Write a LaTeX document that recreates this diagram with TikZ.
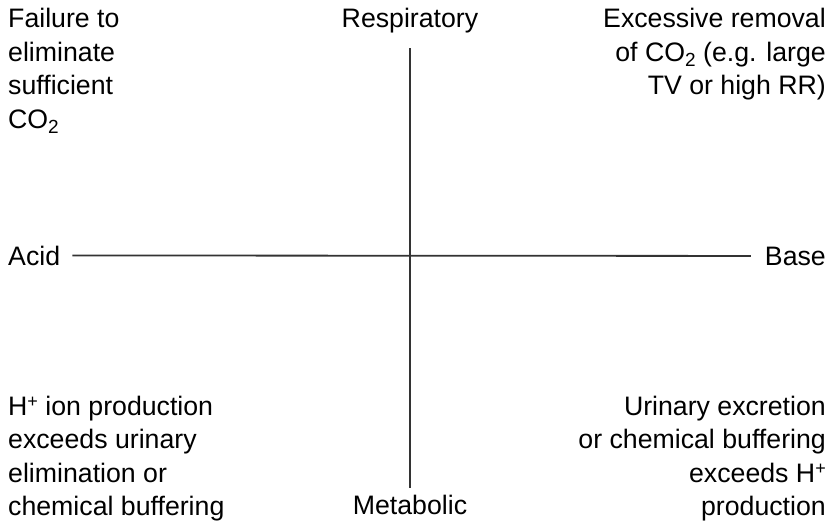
\documentclass[tikz,border=0pt]{standalone}
\usepackage{fontspec}
\setmainfont{Liberation Sans}
\newcommand{\subtwo}{\raisebox{-0.22em}{\fontsize{19}{19}\selectfont 2}}
\newcommand{\suppl}{\raisebox{0.3em}{\fontsize{18}{18}\selectfont +}}
\begin{document}
\begin{tikzpicture}[x=1pt,y=-1pt,
  lbl/.style={inner sep=0pt, font=\fontsize{26.7}{33.5}\selectfont, text=black},
  axis/.style={line width=1.8pt, draw=black!80}]
\useasboundingbox (0,0) rectangle (835,523);
\node[lbl, anchor=base west] (acid) at (8,265) {Acid};
\node[lbl, anchor=base east] (base) at (826,265) {Base};
\node[lbl, anchor=base] (resp) at (410,27) {Respiratory};
\node[lbl, anchor=base] (meta) at (410,514) {Metabolic};
\node[lbl, anchor=north west, align=left] (tl) at (8,8)
  {Failure to\\eliminate\\sufficient\\CO\subtwo};
\node[lbl, anchor=north east, align=right] (tr) at (826,8)
  {Excessive removal\\of CO\subtwo{} (e.g. large\\TV or high RR)};
\node[lbl, anchor=south west, align=left] (bl) at (8,521.5)
  {H\suppl{} ion production\\exceeds urinary\\elimination or\\chemical buffering};
\node[lbl, anchor=south east, align=right] (br) at (826,521.5)
  {Urinary excretion\\or chemical buffering\\exceeds H\suppl{}\\production};
\draw[axis, shorten <=12pt, shorten >=14pt] (acid.east) -- (base.west);
\draw[axis] (resp.south |- 0,48) coordinate (vtop) -- (meta.north |- 0,488) coordinate (vbot);
\end{tikzpicture}
\end{document}
